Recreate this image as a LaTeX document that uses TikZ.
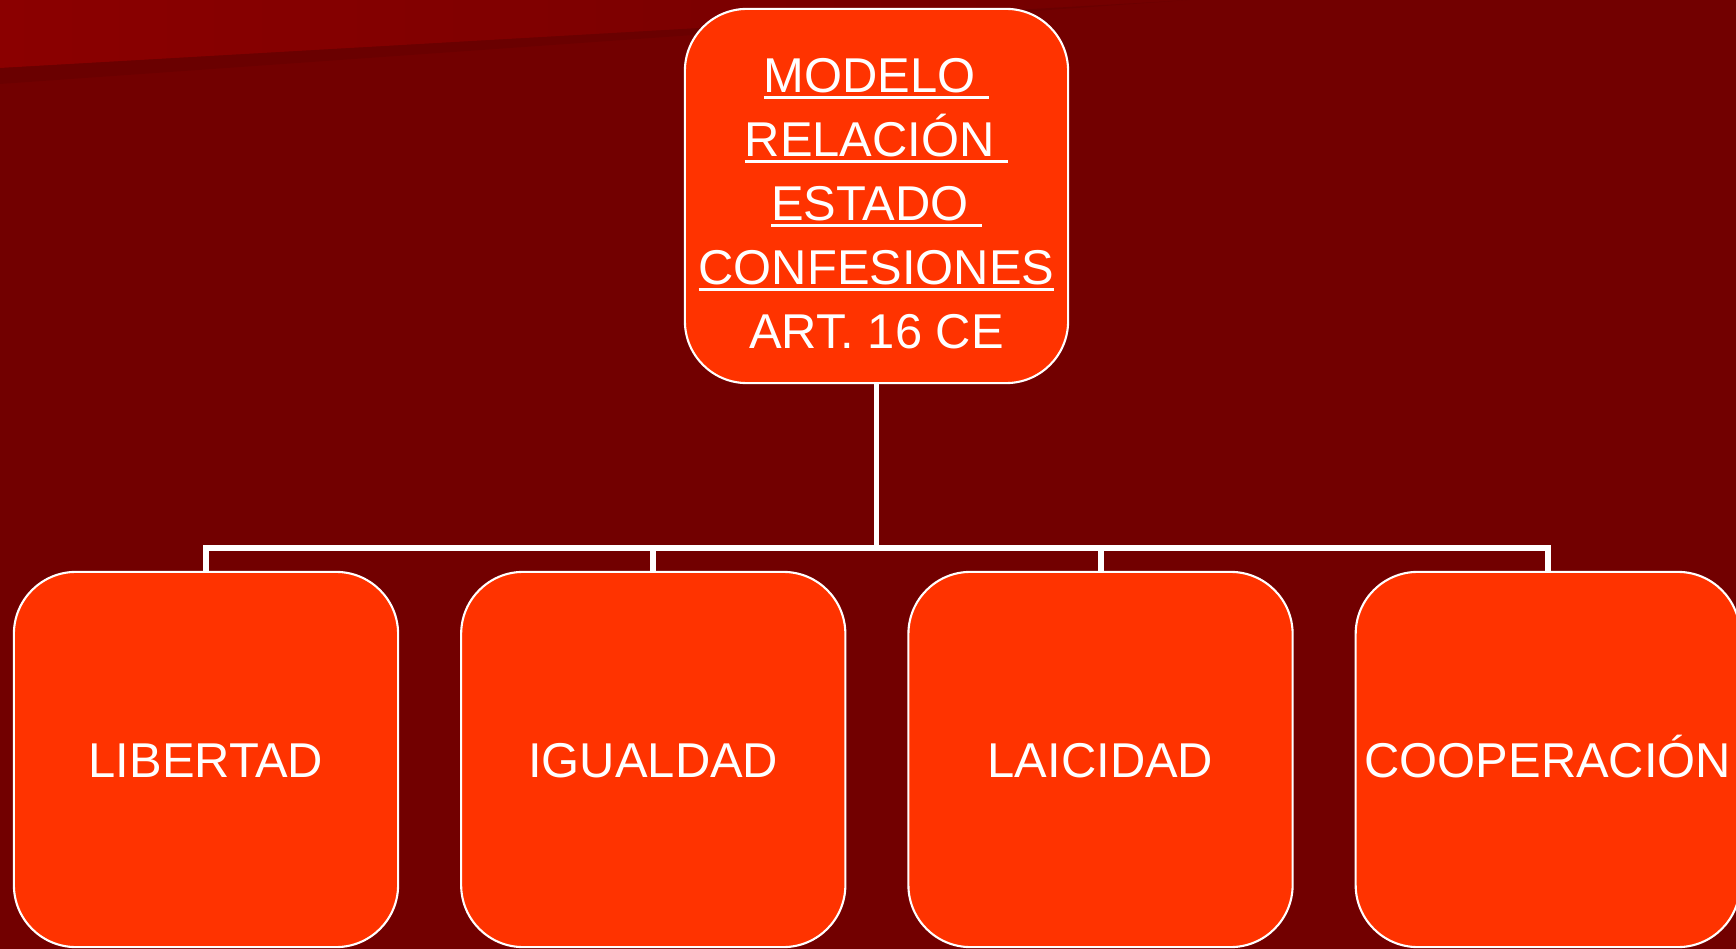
\documentclass[tikz,border=0pt]{standalone}
\usepackage{fontspec}
\setmainfont{Liberation Sans}
\usetikzlibrary{positioning}
\definecolor{bgcolor}{RGB}{114,0,0}
\definecolor{wedgecolor}{RGB}{139,0,0}
\definecolor{shadecolor}{RGB}{100,0,0}
\definecolor{boxcolor}{RGB}{255,51,0}
\newcommand{\ulword}[1]{\setbox0\hbox{#1}\rlap{\rule[-1.9pt]{\wd0}{0.85pt}}\box0}

\begin{document}
\begin{tikzpicture}[x=0.01cm, y=-0.01cm,
    topbox/.style={draw=white, line width=0.6pt, fill=boxcolor, rounded corners=0.62cm,
        minimum width=3.83cm, minimum height=3.74cm, inner sep=0pt, outer sep=0pt,
        text=white, align=center, font=\fontsize{13.9}{18.2}\selectfont},
    leaf/.style={topbox, minimum width=3.84cm, minimum height=3.75cm,
        text height=10pt, text depth=0pt},
    link/.style={draw=white, line width=1.7pt, line join=miter}]
% background
\useasboundingbox (0,0) rectangle (1736,949);
\fill[bgcolor] (0,0) rectangle (1736,949);
\shade[left color=wedgecolor, right color=bgcolor] (0,0) -- (1190,0) -- (0,68) -- cycle;
\fill[shadecolor, opacity=0.5] (0,68) -- (1190,0) -- (0,84) -- cycle;
% boxes
\node[topbox] (modelo) at (876.5,196) {\rule{0pt}{14pt}\ulword{MODELO\ }\\\ulword{RELACIÓN\ }\\\ulword{ESTADO\ }\\\ulword{CONFESIONES}\\ART. 16 CE};
\node[leaf] (libertad) at (206,759.5) {LIBERTAD};
\node[leaf, right=0.63cm of libertad] (igualdad) {IGUALDAD};
\node[leaf, right=0.63cm of igualdad] (laicidad) {LAICIDAD};
\node[leaf, right=0.63cm of laicidad] (cooperacion) {COOPERACIÓN};
% connectors
\coordinate (hub) at (876.5,548);
\draw[link] (modelo.south) -- (hub);
\foreach \n in {libertad,igualdad,laicidad,cooperacion} {
    \draw[link] (\n.north) |- (hub);
}
\end{tikzpicture}
\end{document}
